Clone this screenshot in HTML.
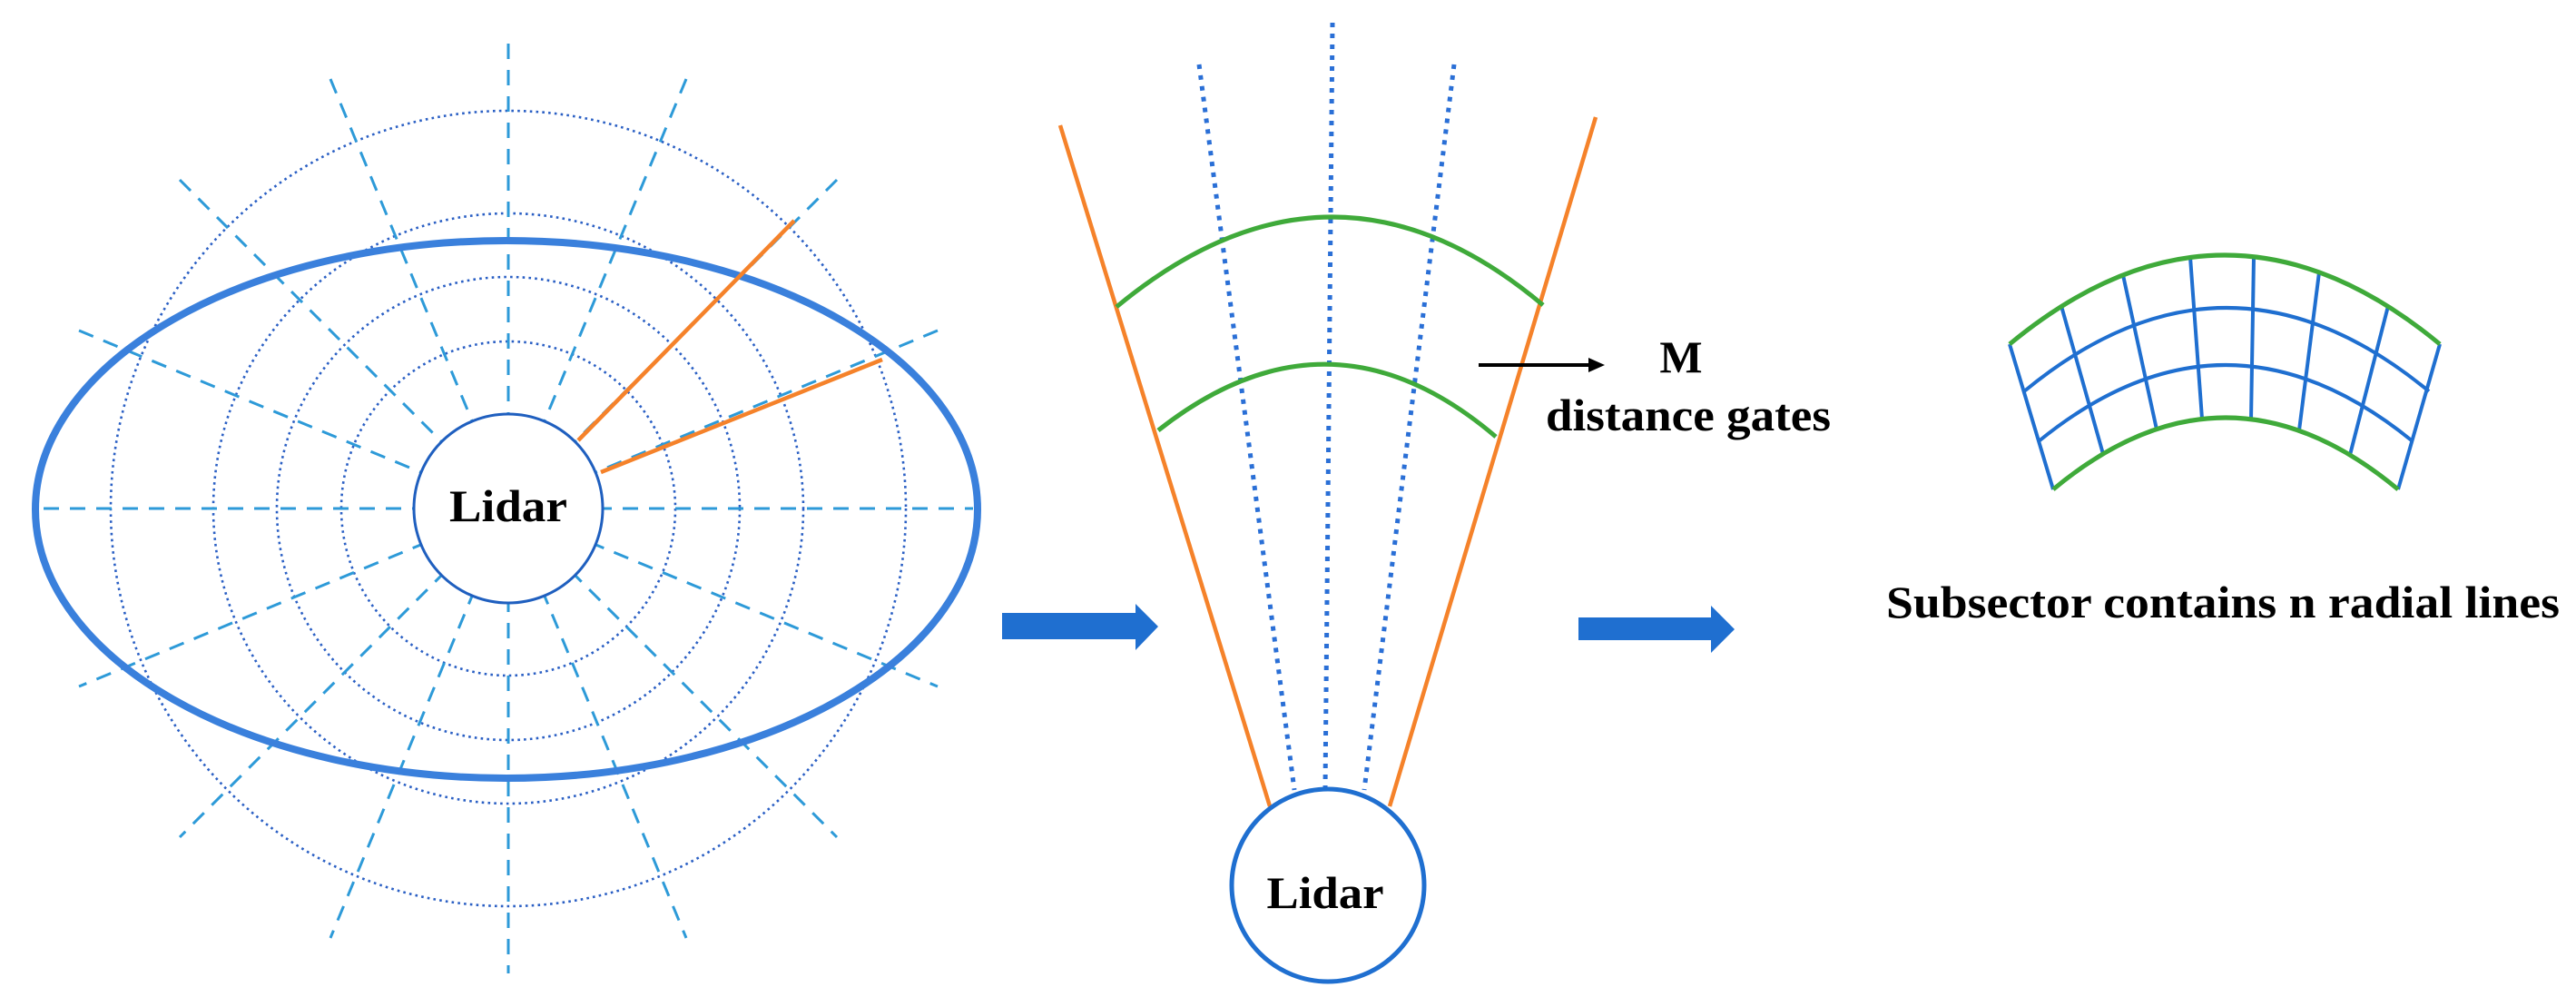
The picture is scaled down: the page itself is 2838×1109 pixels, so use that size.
<!DOCTYPE html>
<html><head><meta charset="utf-8"><style>html,body{margin:0;padding:0;background:#fff}svg{display:block}</style></head>
<body>
<svg width="2838" height="1109" viewBox="0 0 2838 1109" xmlns="http://www.w3.org/2000/svg">
<rect width="2838" height="1109" fill="#fff"/>
<!-- LEFT -->
<g fill="none" stroke="#2a5fc4" stroke-width="2.6" stroke-dasharray="2.6 4.2">
<circle cx="560" cy="560" r="184"/>
<circle cx="560" cy="560" r="255"/>
<circle cx="560" cy="560" r="325"/>
<circle cx="560" cy="560" r="438"/>
</g>
<g stroke="#2d9ad8" stroke-width="3" stroke-dasharray="17 12" fill="none">
<line x1="48" y1="560" x2="1072" y2="560"/>
<line x1="87" y1="364" x2="1033" y2="756"/>
<line x1="198" y1="198" x2="922" y2="922"/>
<line x1="364" y1="87" x2="756" y2="1033"/>
<line x1="560" y1="48" x2="560" y2="1072"/>
<line x1="756" y1="87" x2="364" y2="1033"/>
<line x1="922" y1="198" x2="198" y2="922"/>
<line x1="1033" y1="364" x2="87" y2="756"/>
</g>
<ellipse cx="558" cy="561" rx="519" ry="296" fill="none" stroke="#3a80dc" stroke-width="8"/>
<circle cx="560" cy="560" r="104" fill="#fff" stroke="#1f5fbf" stroke-width="3"/>
<g stroke="#f5822a" stroke-width="4.5">
<line x1="637" y1="485" x2="875" y2="243"/>
<line x1="662" y1="520" x2="972" y2="396"/>
</g>
<text x="560" y="574" text-anchor="middle" font-family="Liberation Serif, serif" font-weight="bold" font-size="50" textLength="130" lengthAdjust="spacingAndGlyphs">Lidar</text>

<!-- ARROWS -->
<polygon points="1104,675 1251,675 1251,665 1276,690 1251,716 1251,704 1104,704" fill="#1f6fd0"/>
<polygon points="1739,680 1885,680 1885,667 1911,693 1885,719 1885,705 1739,705" fill="#1f6fd0"/>

<!-- MIDDLE -->
<g stroke="#2a6fd6" stroke-width="5" stroke-dasharray="5 7" fill="none">
<line x1="1468" y1="25" x2="1460" y2="870"/>
<line x1="1321" y1="71" x2="1426" y2="870"/>
<line x1="1602" y1="71" x2="1503" y2="870"/>
</g>
<g stroke="#f5822a" stroke-width="4.5">
<line x1="1168" y1="138" x2="1399" y2="888"/>
<line x1="1758" y1="129" x2="1531" y2="888"/>
</g>
<g stroke="#3faa3a" stroke-width="5" fill="none">
<path d="M1230,338 Q1468,141 1700,336"/>
<path d="M1276,474 Q1465,325 1648,481"/>
</g>
<circle cx="1463" cy="975" r="106" fill="#fff" stroke="#1f6fd0" stroke-width="5"/>
<text x="1460" y="1000" text-anchor="middle" font-family="Liberation Serif, serif" font-weight="bold" font-size="50" textLength="129" lengthAdjust="spacingAndGlyphs">Lidar</text>
<line x1="1629" y1="402" x2="1752" y2="402" stroke="#000" stroke-width="4"/>
<polygon points="1750,394 1768,402 1750,410" fill="#000"/>
<text x="1852" y="410" text-anchor="middle" font-family="Liberation Serif, serif" font-weight="bold" font-size="50">M</text>
<text x="1703" y="474" font-family="Liberation Serif, serif" font-weight="bold" font-size="50" textLength="314" lengthAdjust="spacingAndGlyphs">distance gates</text>

<!-- RIGHT GRID -->
<g stroke="#1f6fd0" stroke-width="4" fill="none">
<path d="M2230,431 Q2453,247 2676,431"/>
<path d="M2246,486 Q2452,318 2658,486"/>
<line x1="2214" y1="379" x2="2262" y2="539"/>
<line x1="2271" y1="337" x2="2317" y2="500"/>
<line x1="2339" y1="303" x2="2376" y2="473"/>
<line x1="2413" y1="283" x2="2426" y2="461"/>
<line x1="2483" y1="283" x2="2480" y2="462"/>
<line x1="2555" y1="300" x2="2533" y2="474"/>
<line x1="2631" y1="337" x2="2589" y2="501"/>
<line x1="2688" y1="379" x2="2642" y2="539"/>
</g>
<g stroke="#3faa3a" stroke-width="5" fill="none">
<path d="M2214,379 Q2451,183 2688,379"/>
<path d="M2262,539 Q2452,381 2642,539"/>
</g>
<text x="2078" y="680" font-family="Liberation Serif, serif" font-weight="bold" font-size="50" textLength="742" lengthAdjust="spacingAndGlyphs">Subsector contains n radial lines</text>
</svg>
</body></html>
